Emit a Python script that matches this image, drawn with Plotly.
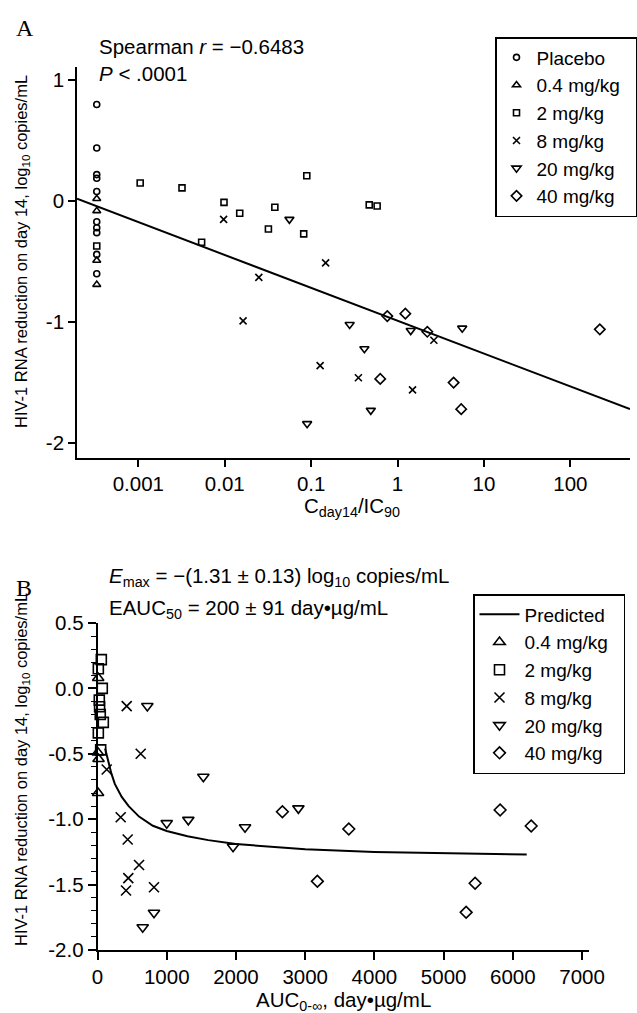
import plotly.graph_objects as go

# ---------------- Panel A data ----------------
placebo_x = [0.00033] * 10
placebo_y = [0.80, 0.44, 0.22, 0.19, 0.08, -0.17, -0.22, -0.26, -0.44, -0.60]
a04_x = [0.00033] * 4
a04_y = [0.02, -0.08, -0.49, -0.69]
a2_x = [0.00033, 0.00105, 0.0032, 0.0054, 0.0098, 0.0149, 0.032, 0.038, 0.082, 0.089, 0.47, 0.58]
a2_y = [-0.37, 0.15, 0.11, -0.34, -0.01, -0.10, -0.23, -0.05, -0.27, 0.21, -0.03, -0.04]
a8_x = [0.0097, 0.0163, 0.0248, 0.127, 0.147, 0.352, 1.49, 2.63]
a8_y = [-0.15, -0.99, -0.63, -1.36, -0.51, -1.46, -1.56, -1.15]
a20_x = [0.056, 0.0898, 0.279, 0.413, 0.49, 1.42, 5.6]
a20_y = [-0.15, -1.84, -1.02, -1.22, -1.73, -1.07, -1.05]
a40_x = [0.63, 0.76, 1.23, 2.21, 4.45, 5.45, 219]
a40_y = [-1.47, -0.95, -0.93, -1.08, -1.50, -1.72, -1.06]
reg_x = [0.000195, 490]
reg_y = [0.02, -1.72]
a_xticks = [0.001, 0.01, 0.1, 1, 10, 100]
a_xticktext = ["0.001", "0.01", "0.1", "1", "10", "100"]
a_yticks = [-2, -1, 0, 1]
a_yticktext = ["-2", "-1", "0", "1"]

# ---------------- Panel B data ----------------
b04_x = [10, 5, 15, 8]
b04_y = [0.08, -0.49, -0.54, -0.80]
b2_x = [55, 12, 69, 26, 30, 40, 84, 12, 46]
b2_y = [0.22, 0.15, 0.0, -0.09, -0.14, -0.20, -0.26, -0.34, -0.47]
b8_x = [422, 624, 133, 335, 436, 600, 445, 412, 816]
b8_y = [-0.135, -0.50, -0.62, -0.985, -1.155, -1.35, -1.45, -1.545, -1.52]
b20_x = [720, 1529, 1000, 1312, 1958, 816, 653, 2131, 2902]
b20_y = [-0.135, -0.675, -1.03, -1.005, -1.21, -1.715, -1.826, -1.062, -0.917]
b40_x = [2671, 3630, 3176, 5816, 6265, 5455, 5325]
b40_y = [-0.943, -1.075, -1.475, -0.93, -1.052, -1.49, -1.712]
pred_x = [110, 150, 200, 250, 350, 450, 600, 800, 1000, 1300, 1600, 2000, 2500, 3000, 4000, 5000, 6200]
pred_y = [-0.46, -0.55, -0.65, -0.73, -0.83, -0.90, -0.98, -1.05, -1.09, -1.13, -1.16, -1.19, -1.21, -1.23, -1.25, -1.26, -1.27]
b_xticks = [0, 1000, 2000, 3000, 4000, 5000, 6000, 7000]
b_xticktext = ["0", "1000", "2000", "3000", "4000", "5000", "6000", "7000"]
b_yticks = [-2.0, -1.5, -1.0, -0.5, 0.0, 0.5]
b_yticktext = ["-2.0", "-1.5", "-1.0", "-0.5", "0.0", "0.5"]

W, H = 637, 1013
FONT = "Liberation Sans, Arial, sans-serif"
PAD = "\u00a0\u00a0\u00a0"  # invisible padding so the legend box runs to the figure edge


def px(x):
    return x / W


def py(y):
    return 1 - y / H


fig = go.Figure()

mk_line = dict(color="black", width=1.6)


def add(x, y, name, symbol, size, xa, ya, leg, group=None):
    fig.add_trace(go.Scatter(
        x=x, y=y, mode="markers", name=name, xaxis=xa, yaxis=ya,
        legend=leg, legendgroup=group, cliponaxis=False,
        marker=dict(symbol=symbol, size=size, color="black", line=mk_line),
    ))


# Panel A
fig.add_trace(go.Scatter(x=reg_x, y=reg_y, mode="lines", xaxis="x", yaxis="y",
                         line=dict(color="black", width=2), showlegend=False))
add(placebo_x, placebo_y, "Placebo", "circle-open", 6, "x", "y", "legend")
add(a04_x, a04_y, "0.4 mg/kg", "triangle-up-open", 7, "x", "y", "legend")
add(a2_x, a2_y, "2 mg/kg", "square-open", 6, "x", "y", "legend")
add(a8_x, a8_y, "8 mg/kg", "x-thin-open", 7, "x", "y", "legend")
add(a20_x, a20_y, "20 mg/kg" + PAD, "triangle-down-open", 8, "x", "y", "legend")
add(a40_x, a40_y, "40 mg/kg", "diamond-open", 8, "x", "y", "legend")

# Panel B
fig.add_trace(go.Scatter(x=pred_x, y=pred_y, mode="lines", name="Predicted", xaxis="x2", yaxis="y2",
                         legend="legend2", legendgroup="b0", line=dict(color="black", width=2)))
add(b04_x, b04_y, "0.4 mg/kg", "triangle-up-open", 10, "x2", "y2", "legend2", "b1")
add(b2_x, b2_y, "2 mg/kg", "square-open", 10, "x2", "y2", "legend2", "b2")
add(b8_x, b8_y, "8 mg/kg", "x-thin-open", 10, "x2", "y2", "legend2", "b3")
add(b20_x, b20_y, "20 mg/kg" + PAD, "triangle-down-open", 10, "x2", "y2", "legend2", "b4")
add(b40_x, b40_y, "40 mg/kg", "diamond-open", 9, "x2", "y2", "legend2", "b5")

axis_common = dict(showline=True, linewidth=1.6, linecolor="black", showgrid=False, zeroline=False,
                   ticks="outside", ticklen=7, tickwidth=1.6, tickcolor="black", automargin=False,
                   tickfont=dict(size=20.5, color="black", family=FONT), tickmode="array")

fig.update_layout(
    width=W, height=H, margin=dict(l=0, r=0, t=0, b=0, autoexpand=False),
    plot_bgcolor="white", paper_bgcolor="white",
    font=dict(family=FONT, color="black", size=20),
    xaxis=dict(axis_common, type="log", domain=[px(77), px(630)], range=[-3.71, 2.69],
               tickvals=a_xticks, ticktext=a_xticktext, anchor="y"),
    yaxis=dict(axis_common, domain=[py(458), py(67)], range=[-2.124, 1.11],
               tickvals=a_yticks, ticktext=a_yticktext, anchor="x"),
    xaxis2=dict(axis_common, domain=[px(97.5), px(589)], range=[0, 7100],
                tickvals=b_xticks, ticktext=b_xticktext, anchor="y2", ticklen=8),
    yaxis2=dict(axis_common, domain=[py(950), py(623)], range=[-2.0, 0.5],
                tickvals=b_yticks, ticktext=b_yticktext, anchor="x2", ticklen=8,
                minor=dict(tickmode="linear", tick0=0, dtick=0.1, ticks="outside", ticklen=5,
                           tickwidth=1.4, tickcolor="black")),
    legend=dict(x=px(495), y=py(37), xanchor="left", yanchor="top", xref="container", yref="container",
                bordercolor="black", borderwidth=1.5, bgcolor="white",
                font=dict(size=19, family=FONT, color="black"),
                traceorder="normal"),
    legend2=dict(x=px(473), y=py(594), xanchor="left", yanchor="top", xref="container", yref="container",
                 bordercolor="black", borderwidth=1.5, bgcolor="white",
                 font=dict(size=19, family=FONT, color="black"), tracegroupgap=4,
                 traceorder="normal", itemwidth=40),
    showlegend=True,
)

ann = [
    dict(text="A", x=px(14), y=py(28), xanchor="left", yanchor="middle",
         font=dict(family="Liberation Serif, Times New Roman, serif", size=24, color="black")),
    dict(text="B", x=px(14), y=py(588), xanchor="left", yanchor="middle",
         font=dict(family="Liberation Serif, Times New Roman, serif", size=24, color="black")),
    dict(text="Spearman <i>r</i> = −0.6483", x=px(97), y=py(47), xanchor="left", yanchor="middle"),
    dict(text="<i>P</i> &lt; .0001", x=px(97), y=py(73), xanchor="left", yanchor="middle"),
    dict(text="<i>E</i><sub>max</sub> = −(1.31 ± 0.13) log<sub>10</sub> copies/mL",
         x=px(107), y=py(577), xanchor="left", yanchor="middle"),
    dict(text="EAUC<sub>50</sub> = 200 ± 91 day•µg/mL", x=px(107), y=py(609),
         xanchor="left", yanchor="middle"),
    dict(text="C<sub>day14</sub>/IC<sub>90</sub>", x=px(352), y=py(507), xanchor="center", yanchor="middle"),
    dict(text="AUC<sub>0-∞</sub>, day•µg/mL", x=px(343), y=py(1001), xanchor="center", yanchor="middle"),
    dict(text="HIV-1 RNA reduction on day 14, log<sub>10</sub> copies/mL", x=px(22), y=py(252),
         textangle=-90, xanchor="center", yanchor="middle", font=dict(size=16.5)),
    dict(text="HIV-1 RNA reduction on day 14, log<sub>10</sub> copies/mL", x=px(22), y=py(770),
         textangle=-90, xanchor="center", yanchor="middle", font=dict(size=16.5)),
]
for a in ann:
    a.setdefault("font", dict(size=20.5))
    a["font"].setdefault("family", FONT)
    a["font"].setdefault("color", "black")
    a.update(xref="paper", yref="paper", showarrow=False)
fig.update_layout(annotations=ann)

fig.write_html(
    "out.html",
    config={"displayModeBar": False},
    post_script="document.body.style.margin='0px';document.body.style.padding='0px';"
                "document.documentElement.style.overflow='hidden';",
)
